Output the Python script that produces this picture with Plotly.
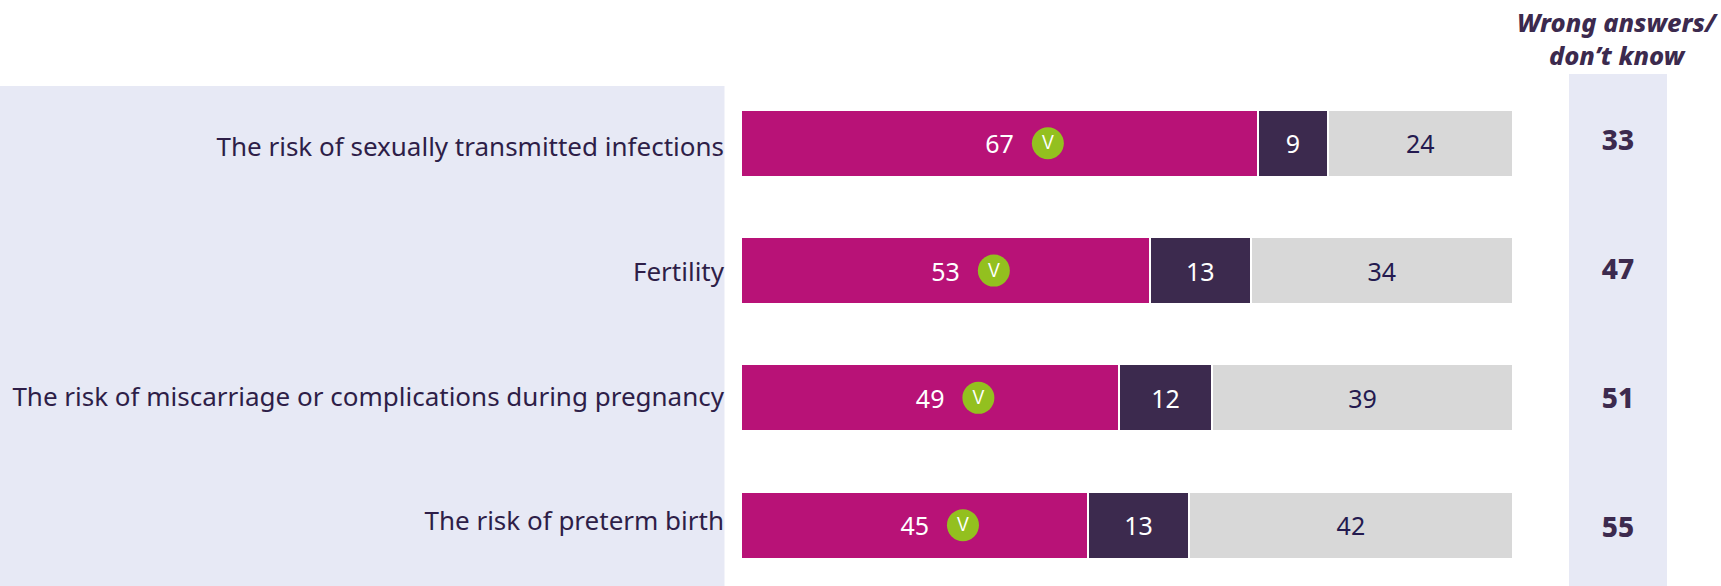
import plotly.graph_objects as go

W, H = 1721, 586
categories = ["The risk of sexually transmitted infections", "Fertility",
              "The risk of miscarriage or complications during pregnancy", "The risk of preterm birth"]
correct = [67, 53, 49, 45]
wrong = [9, 13, 12, 13]
dont_know = [24, 34, 39, 42]
totals = [33, 47, 51, 55]
header = "Wrong answers/<br>don’t know"

MAGENTA, DARK, GREY, PANEL, INK, GREEN = "#B81277", "#3C2A4E", "#D8D8D8", "#E7E9F5", "#2E1E48", "#93C01F"
FONT = "Noto Sans"
CHECK_OFFSET = 6.25

fig = go.Figure()
for name, vals, col, tcol in [("Correct", correct, MAGENTA, "white"), ("Wrong", wrong, DARK, "white"),
                              ("Don't know", dont_know, GREY, "#241A4F")]:
    fig.add_trace(go.Bar(y=categories, x=vals, orientation="h", name=name, text=[str(v) for v in vals],
                         textposition="inside", insidetextanchor="middle", textangle=0, constraintext="none",
                         textfont=dict(family=FONT, size=25, color=tcol),
                         marker=dict(color=col, line=dict(color="white", width=2))))
fig.add_trace(go.Scatter(y=categories, x=[v / 2 + CHECK_OFFSET for v in correct], mode="markers+text",
                         text=["v"] * 4, textposition="middle center",
                         textfont=dict(family="Inter", size=24, color="white", weight=300),
                         marker=dict(color=GREEN, size=32, line=dict(width=0))))
# invisible carrier for the category labels, which sit on their own slightly tighter axis
fig.add_trace(go.Scatter(y=categories, x=correct, yaxis="y2", mode="markers", marker=dict(opacity=0), hoverinfo="skip"))
fig.add_trace(go.Scatter(y=categories, x=[0.5] * 4, xaxis="x2", yaxis="y3", mode="text", text=[str(v) for v in totals],
                         textposition="middle center", textfont=dict(family=FONT, size=28, color=DARK, weight=800)))

# left label panel and right totals column
fig.add_shape(type="rect", xref="paper", yref="paper", x0=0, x1=724.5 / W, y0=0, y1=1 - 86 / H,
              fillcolor=PANEL, line_width=0, layer="below")
fig.add_shape(type="rect", xref="x2 domain", yref="paper", x0=0, x1=1, y0=0, y1=1 - 74 / H,
              fillcolor=PANEL, line_width=0, layer="below")
fig.add_annotation(xref="x2 domain", yref="paper", x=0.5, y=1 - 39 / H, yanchor="middle", text=header, showarrow=False,
                   font=dict(family=FONT, size=25.5, color=DARK, weight=800, style="italic"), align="center")

cat = dict(type="category", categoryorder="array", categoryarray=categories, showgrid=False,
           zeroline=False, showline=False, ticks="")
fig.update_layout(
    width=W, height=H, barmode="stack", bargap=0.474, showlegend=False,
    margin=dict(l=0, r=0, t=0, b=0), paper_bgcolor="white", plot_bgcolor="rgba(0,0,0,0)",
    xaxis=dict(domain=[741 / W, 1513 / W], range=[0, 100], visible=False),
    xaxis2=dict(domain=[1569 / W, 1667 / W], range=[0, 1], visible=False, anchor="y"),
    yaxis=dict(domain=[0, 1], range=[3.478, -1.1257], showticklabels=False, **cat),
    yaxis2=dict(overlaying="y", side="left", range=[3.518, -1.178], ticklabelstandoff=16,
                tickfont=dict(family=FONT, size=26, color=INK), **cat),
    yaxis3=dict(overlaying="y", side="right", range=[3.434, -1.1085], showticklabels=False, **cat),
)
fig.write_html("out.html", config=dict(displayModeBar=False),
               post_script="document.body.style.margin='0';document.body.style.overflow='hidden';")
